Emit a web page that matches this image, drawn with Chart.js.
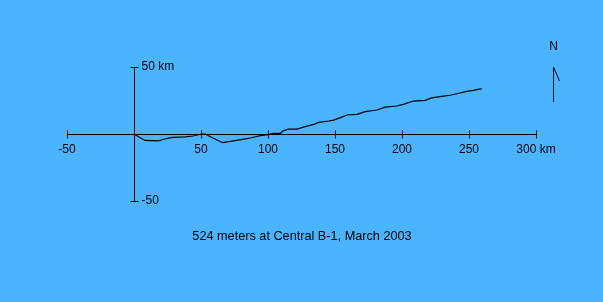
<!DOCTYPE html>
<html>
<head>
<meta charset="utf-8">
<script src="https://cdn.jsdelivr.net/npm/chart.js@4/dist/chart.umd.min.js"></script>
<style>
  html, body { margin: 0; padding: 0; background: #4ab4ff; }
  #canv { display: block; }
</style>
</head>
<body>
<canvas id="canv" width="603" height="302"></canvas>
<script>
// profile trace, km east / km north
const xKm = [0, 4, 8.2, 13, 18, 25, 29, 38, 44, 50.5, 53, 60, 66, 72, 81, 87, 94, 100,
  104.3, 109.2, 111.7, 115.4, 121.6, 127.8, 134.1, 137.8, 145.3, 149, 154, 159, 166.4,
  172.6, 181.3, 187.3, 196, 201, 208.4, 217.2, 222.2, 229.6, 235.8, 243.3, 248.3, 253.2, 259.5];
const yKm = [0, -2.5, -4.8, -5, -5.2, -3.2, -2.5, -2.2, -1.5, 0, 0, -3.5, -6.5, -5.5, -4, -3, -1.2, -0.5,
  0.5, 0.5, 2.5, 3.7, 3.7, 5.5, 7.2, 8.7, 9.7, 10.4, 12.2, 14.2, 14.7,
  16.7, 17.9, 20.1, 20.9, 22.1, 24.6, 25.1, 26.9, 28.1, 28.9, 30.6, 31.8, 32.6, 33.8];

const xTicks = [-50, 50, 100, 150, 200, 250, 300];
const xTickLabels = ['-50', '50', '100', '150', '200', '250', '300 km'];
const yTicks = [50, -50];
const yTickLabels = ['50 km', '-50'];
const caption = '524 meters at Central B-1, March 2003';

const FONT = '12px "Liberation Sans", Arial, sans-serif';

const crossAxes = {
    id: 'crossAxes',
    beforeDatasetsDraw(chart) {
        const ctx = chart.ctx;
        const xs = chart.scales.x, ys = chart.scales.y;
        const y0 = Math.round(ys.getPixelForValue(0)) + 0.5;
        const x0 = Math.round(xs.getPixelForValue(0)) + 0.5;
        ctx.save();
        ctx.strokeStyle = '#000';
        ctx.fillStyle = '#000';
        ctx.lineWidth = 1;
        ctx.font = FONT;
        ctx.beginPath();
        ctx.moveTo(xs.getPixelForValue(xs.min), y0);
        ctx.lineTo(xs.getPixelForValue(xs.max) + 1, y0);
        ctx.moveTo(x0, ys.getPixelForValue(ys.max));
        ctx.lineTo(x0, ys.getPixelForValue(ys.min) + 1);
        xTicks.forEach(v => {
            const px = Math.round(xs.getPixelForValue(v)) + 0.5;
            ctx.moveTo(px, y0 - 4);
            ctx.lineTo(px, y0 + 4);
        });
        yTicks.forEach(v => {
            const py = Math.round(ys.getPixelForValue(v)) + 0.5;
            ctx.moveTo(x0 - 4, py);
            ctx.lineTo(x0 + 4, py);
        });
        ctx.stroke();

        ctx.textAlign = 'center';
        ctx.textBaseline = 'middle';
        xTicks.forEach((v, i) => {
            ctx.fillText(xTickLabels[i], xs.getPixelForValue(v), y0 + 15);
        });
        ctx.textAlign = 'left';
        yTicks.forEach((v, i) => {
            ctx.fillText(yTickLabels[i], x0 + 7, ys.getPixelForValue(v));
        });
        ctx.restore();
    },
    afterDraw(chart) {
        const ctx = chart.ctx;
        ctx.save();
        ctx.strokeStyle = '#000';
        ctx.fillStyle = '#000';
        ctx.lineWidth = 1;
        ctx.font = FONT;
        // north arrow
        ctx.textAlign = 'center';
        ctx.textBaseline = 'middle';
        ctx.fillText('N', 553.5, 47);
        ctx.beginPath();
        ctx.moveTo(553.5, 67);
        ctx.lineTo(553.5, 102);
        ctx.moveTo(553.5, 67);
        ctx.lineTo(559.5, 81);
        ctx.stroke();
        // caption
        ctx.font = '12.7px "Liberation Sans", Arial, sans-serif';
        ctx.fillText(caption, 302, 236.5);
        ctx.restore();
    }
};

new Chart(document.getElementById('canv').getContext('2d'), {
    type: 'scatter',
    data: {
        datasets: [{
            data: xKm.map((x, i) => ({x: x, y: yKm[i]})),
            showLine: true,
            borderColor: '#000',
            borderWidth: 1.2,
            pointRadius: 0,
            tension: 0
        }]
    },
    options: {
        responsive: false,
        animation: false,
        layout: { padding: { left: 67, right: 67, top: 67, bottom: 101 } },
        plugins: { legend: { display: false }, tooltip: { enabled: false } },
        scales: {
            x: { type: 'linear', min: -50, max: 300, display: false },
            y: { type: 'linear', min: -50, max: 50, display: false }
        }
    },
    plugins: [crossAxes]
});
</script>
</body>
</html>
